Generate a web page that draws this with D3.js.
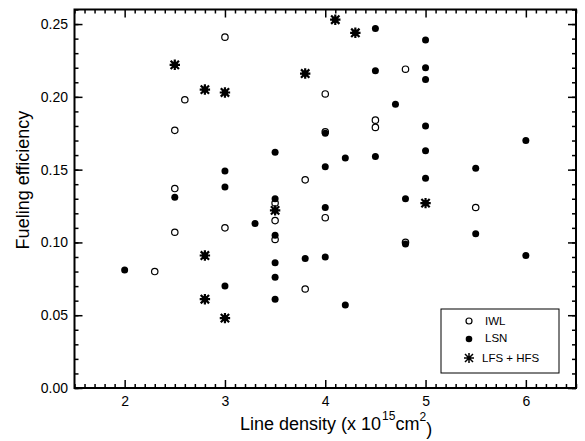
<!DOCTYPE html>
<html>
<head>
<meta charset="utf-8">
<script src="https://cdn.jsdelivr.net/npm/d3@7"></script>
<style>
  body { margin: 0; background: #fff; }
  svg { display: block; font-family: "Liberation Sans", Arial, Helvetica, sans-serif; }
  .tick text { font-size: 14px; fill: #000; }
  .tick line { stroke: #000; stroke-width: 1.5; }
</style>
</head>
<body>
<div id="chart"></div>
<script>
const width = 585;
const height = 441;
const margin = { top: 9.5, right: 9, bottom: 53, left: 74.5 };

// [line density, fueling efficiency]
const iwl = [
  [2.3, 0.080], [2.5, 0.107], [2.5, 0.137], [2.5, 0.177], [2.6, 0.198],
  [3.0, 0.241], [3.0, 0.110], [3.5, 0.127], [3.5, 0.115], [3.5, 0.102],
  [3.8, 0.143], [3.8, 0.068], [4.0, 0.202], [4.0, 0.176], [4.0, 0.117],
  [4.5, 0.184], [4.5, 0.179], [4.8, 0.219], [4.8, 0.100], [5.5, 0.124]
];
const lsn = [
  [2.0, 0.081], [2.5, 0.131], [3.0, 0.149], [3.0, 0.138], [3.0, 0.070],
  [3.3, 0.113], [3.5, 0.162], [3.5, 0.130], [3.5, 0.105], [3.5, 0.086],
  [3.5, 0.076], [3.5, 0.061], [3.8, 0.089], [4.0, 0.175], [4.0, 0.152],
  [4.0, 0.124], [4.0, 0.090], [4.2, 0.158], [4.2, 0.057], [4.5, 0.247],
  [4.5, 0.218], [4.5, 0.159], [4.7, 0.195], [4.8, 0.130], [4.8, 0.099],
  [5.0, 0.239], [5.0, 0.220], [5.0, 0.212], [5.0, 0.180], [5.0, 0.163],
  [5.0, 0.144], [5.5, 0.151], [5.5, 0.106], [6.0, 0.170], [6.0, 0.091]
];
const lfsHfs = [
  [2.5, 0.222], [2.8, 0.205], [3.0, 0.203], [3.5, 0.122], [3.8, 0.216],
  [4.1, 0.253], [4.3, 0.244], [5.0, 0.127], [2.8, 0.091], [2.8, 0.061],
  [3.0, 0.048]
];

const xTicks = [2, 3, 4, 5, 6];
const yTicks = [0, 0.05, 0.1, 0.15, 0.2, 0.25];
const legendLabels = ["IWL", "LSN", "LFS + HFS"];

const svg = d3
  .select("#chart")
  .append("svg")
  .attr("width", width)
  .attr("height", height);

const plotWidth = width - margin.left - margin.right;
const plotHeight = height - margin.top - margin.bottom;

const plot = svg
  .append("g")
  .attr("transform", `translate(${margin.left},${margin.top})`);

const x = d3.scaleLinear().domain([1.5, 6.5]).range([0, plotWidth]);
const y = d3.scaleLinear().domain([0, 0.26]).range([plotHeight, 0]);

const xMinor = d3.range(15, 66).map((d) => d / 10).filter((d) => !xTicks.includes(d));
const yMinor = d3.range(0, 27).map((d) => d / 100);

const major = 8;
const minor = 4;

// ticks point inward on all four sides
function addAxis(axis, transform) {
  const g = plot.append("g").attr("transform", transform).call(axis);
  g.select(".domain").remove();
  return g;
}

addAxis(d3.axisBottom(x).tickValues(xTicks).tickSize(-major).tickPadding(8).tickFormat(d3.format("d")), `translate(0,${plotHeight})`);
addAxis(d3.axisBottom(x).tickValues(xMinor).tickSize(-minor).tickFormat(""), `translate(0,${plotHeight})`);
addAxis(d3.axisTop(x).tickValues(xTicks).tickSize(-major).tickFormat(""), "translate(0,0)");
addAxis(d3.axisTop(x).tickValues(xMinor).tickSize(-minor).tickFormat(""), "translate(0,0)");

addAxis(d3.axisLeft(y).tickValues(yTicks).tickSize(-major).tickPadding(6.5).tickFormat(d3.format(".2f")), "translate(0,0)");
addAxis(d3.axisLeft(y).tickValues(yMinor).tickSize(-minor).tickFormat(""), "translate(0,0)");
addAxis(d3.axisRight(y).tickValues(yTicks).tickSize(-major).tickFormat(""), `translate(${plotWidth},0)`);
addAxis(d3.axisRight(y).tickValues(yMinor).tickSize(-minor).tickFormat(""), `translate(${plotWidth},0)`);

plot
  .append("rect")
  .attr("width", plotWidth)
  .attr("height", plotHeight)
  .attr("fill", "none")
  .attr("stroke", "#000")
  .attr("stroke-width", 2);

// asterisk: vertical, horizontal and two diagonals
function asterisk(s) {
  const d = s * 0.8;
  return `M0,${-s}V${s}M${-s},0H${s}M${-d},${-d}L${d},${d}M${-d},${d}L${d},${-d}`;
}

plot
  .selectAll("circle.lsn")
  .data(lsn)
  .join("circle")
  .attr("class", "lsn")
  .attr("cx", (d) => x(d[0]))
  .attr("cy", (d) => y(d[1]))
  .attr("r", 3.5)
  .attr("fill", "#000");

plot
  .selectAll("circle.iwl")
  .data(iwl)
  .join("circle")
  .attr("class", "iwl")
  .attr("cx", (d) => x(d[0]))
  .attr("cy", (d) => y(d[1]))
  .attr("r", 3.2)
  .attr("fill", "none")
  .attr("stroke", "#000")
  .attr("stroke-width", 1.2);

const stars = plot
  .selectAll("g.lfs")
  .data(lfsHfs)
  .join("g")
  .attr("class", "lfs")
  .attr("transform", (d) => `translate(${x(d[0])},${y(d[1])})`);
stars.append("circle").attr("r", 3.2).attr("fill", "#000");
stars.append("path").attr("d", asterisk(5.2)).attr("stroke", "#000").attr("stroke-width", 2.2);

// axis titles
svg
  .append("text")
  .attr("transform", "translate(29,180) rotate(-90)")
  .attr("text-anchor", "middle")
  .attr("font-size", 18)
  .text("Fueling efficiency");

const xTitle = svg
  .append("text")
  .attr("x", 240)
  .attr("y", 430)
  .attr("font-size", 18)
  .text("Line density (x 10");
xTitle.append("tspan").attr("dx", 1).attr("dy", -10).attr("font-size", 12).text("15");
xTitle.append("tspan").attr("dx", 0).attr("dy", 10).text("cm");
xTitle.append("tspan").attr("dx", 0).attr("dy", -9).attr("font-size", 12).text("2");
xTitle.append("tspan").attr("dx", 0).attr("dy", 14).text(")");

// legend
const legend = svg.append("g").attr("transform", "translate(441,309)");
legend
  .append("rect")
  .attr("width", 118)
  .attr("height", 64)
  .attr("fill", "#fff")
  .attr("stroke", "#000")
  .attr("stroke-width", 1);

legend.append("circle").attr("cx", 28).attr("cy", 12).attr("r", 3).attr("fill", "none").attr("stroke", "#000").attr("stroke-width", 1.2);
legend.append("circle").attr("cx", 28).attr("cy", 30).attr("r", 3.3).attr("fill", "#000");
legend.append("path").attr("transform", "translate(28,49)").attr("d", asterisk(5)).attr("stroke", "#000").attr("stroke-width", 1.5);

legend
  .selectAll("text")
  .data(legendLabels)
  .join("text")
  .attr("x", (d, i) => (i === 2 ? 41 : 44))
  .attr("y", (d, i) => [15.5, 33, 53][i])
  .attr("font-size", 11.5)
  .text((d) => d);
</script>
</body>
</html>
